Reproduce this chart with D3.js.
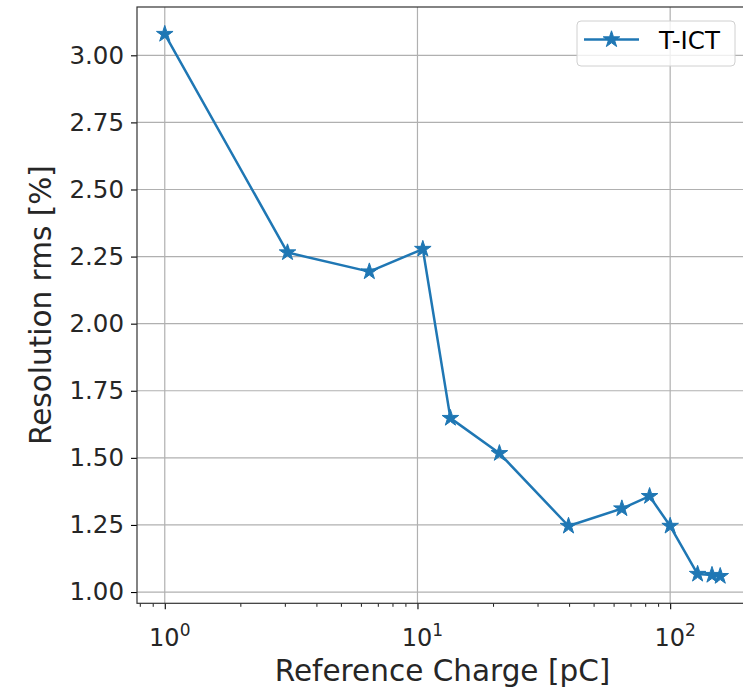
<!DOCTYPE html>
<html><head><meta charset="utf-8">
<script src="https://cdn.jsdelivr.net/npm/d3@7"></script>
<style>
html,body{margin:0;padding:0;background:#fff;}
svg{display:block;font-family:"DejaVu Sans",sans-serif;}
</style></head>
<body>
<svg id="chart" width="743" height="687"></svg>
<script>
const charge = [1.0, 3.06, 6.45, 10.5, 13.5, 21.1, 39.6, 64.4, 82.9, 100, 128.4, 146.4, 157.8];
const resolution = [3.079, 2.265, 2.194, 2.278, 1.648, 1.517, 1.246, 1.311, 1.357, 1.246, 1.067, 1.063, 1.059];
const seriesName = "T-ICT";
const yTicks = [1.00, 1.25, 1.50, 1.75, 2.00, 2.25, 2.50, 2.75, 3.00];
const xMajorTicks = [1, 10, 100];
const xLabel = "Reference Charge [pC]";
const yLabel = "Resolution rms [%]";

const svg = d3.select("#chart");
const L = 137, R = 748, T = 7, B = 603.3;
const color = "#1f77b4";
const grid = "#b0b0b0";

const lx0 = Math.log10(d3.min(charge)), lx1 = Math.log10(d3.max(charge));
const mx = (lx1 - lx0) * 0.05;
const x = d3.scaleLog().domain([Math.pow(10, lx0 - mx), Math.pow(10, lx1 + mx)]).range([L, R]);
const y0 = d3.min(resolution), y1 = d3.max(resolution), my = (y1 - y0) * 0.05;
const y = d3.scaleLinear().domain([y0 - my, y1 + my]).range([B, T]);

// grid
const g = svg.append("g");
g.selectAll(".gx").data(xMajorTicks).join("line")
  .attr("x1", d => x(d)).attr("x2", d => x(d)).attr("y1", T).attr("y2", B)
  .attr("stroke", grid).attr("stroke-width", 1.2);
g.selectAll(".gy").data(yTicks).join("line")
  .attr("x1", L).attr("x2", R).attr("y1", d => y(d)).attr("y2", d => y(d))
  .attr("stroke", grid).attr("stroke-width", 1.2);

// line + markers
const line = d3.line().x((d, i) => x(charge[i])).y(d => y(d));
svg.append("path").datum(resolution).attr("d", line)
  .attr("fill", "none").attr("stroke", color).attr("stroke-width", 2.5).attr("stroke-linejoin", "round");
const star = d3.symbol().type(d3.symbolStar).size(85);
svg.selectAll(".pt").data(resolution).join("path")
  .attr("d", star)
  .attr("transform", (d, i) => `translate(${x(charge[i])},${y(d)})`)
  .attr("fill", color).attr("stroke", color).attr("stroke-width", 1);

// axes
const xAxis = d3.axisBottom(x).tickValues(xMajorTicks).tickSize(6).tickFormat("");
const ax = svg.append("g").attr("transform", `translate(0,${B})`).call(xAxis);
ax.select(".domain").remove();
ax.selectAll("line").attr("stroke", "#000").attr("stroke-width", 1.1);
// minor ticks
const minor = [];
const [d0, d1] = x.domain();
for (let e = -1; e <= 3; e++) for (let k = 2; k <= 9; k++) { const v = k * Math.pow(10, e); if (v >= d0 && v <= d1) minor.push(v); }
svg.append("g").selectAll("line").data(minor).join("line")
  .attr("x1", d => x(d)).attr("x2", d => x(d)).attr("y1", B).attr("y2", B + 3.5)
  .attr("stroke", "#000").attr("stroke-width", 0.9);
// x tick labels with superscript
const xl = svg.append("g").selectAll("text").data(xMajorTicks).join("text")
  .attr("x", d => x(d) + 5).attr("y", B + 43).attr("text-anchor", "middle")
  .attr("font-size", 24).attr("fill", "#262626");
xl.append("tspan").text("10");
xl.append("tspan").attr("dy", -10).attr("font-size", 17).text(d => Math.round(Math.log10(d)));

const yAxis = d3.axisLeft(y).tickValues(yTicks).tickSize(6).tickPadding(7).tickFormat(d3.format(".2f"));
const ay = svg.append("g").attr("transform", `translate(${L},0)`).call(yAxis);
ay.select(".domain").remove();
ay.selectAll("line").attr("stroke", "#000").attr("stroke-width", 1.1);
ay.selectAll("text").attr("font-size", 24.5).attr("font-family", "DejaVu Sans").attr("fill", "#262626");

// spines
svg.append("rect").attr("x", L).attr("y", T).attr("width", R - L).attr("height", B - T)
  .attr("fill", "none").attr("stroke", "#333").attr("stroke-width", 1.2);

// axis labels
svg.append("text").attr("x", (L + R) / 2).attr("y", 681).attr("text-anchor", "middle")
  .attr("font-size", 29.5).attr("fill", "#262626").text(xLabel);
svg.append("text").attr("transform", `translate(51,${(T + B) / 2}) rotate(-90)`).attr("text-anchor", "middle")
  .attr("font-size", 29.5).attr("fill", "#262626").text(yLabel);

// legend
const lg = svg.append("g").attr("transform", "translate(577,21)");
lg.append("rect").attr("width", 158).attr("height", 45).attr("rx", 4)
  .attr("fill", "#fff").attr("fill-opacity", 0.8).attr("stroke", "#d0d0d0").attr("stroke-width", 1);
lg.append("line").attr("x1", 7).attr("x2", 62).attr("y1", 18.5).attr("y2", 18.5)
  .attr("stroke", color).attr("stroke-width", 2.5);
lg.append("path").attr("d", star).attr("transform", "translate(34.5,18.5)").attr("fill", color).attr("stroke", color);
lg.append("text").attr("x", 82).attr("y", 27.5).attr("font-size", 24.5).attr("fill", "#000").text(seriesName);
</script>
</body></html>
